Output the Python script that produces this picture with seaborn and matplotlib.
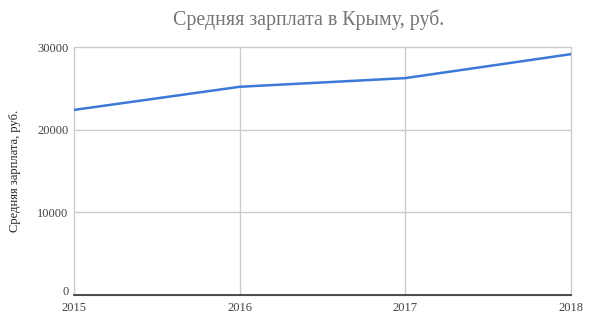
import matplotlib
matplotlib.use("Agg")
import matplotlib.pyplot as plt
import matplotlib.transforms as mtransforms
import seaborn as sns
import pandas as pd

years = [2015, 2016, 2017, 2018]
salary = [22400, 25200, 26250, 29150]
yticks = [0, 10000, 20000, 30000]

sns.set_theme(style="white")
plt.rcParams['font.family'] = ['Liberation Serif', 'DejaVu Serif']

df = pd.DataFrame({"year": years, "salary": salary})

fig = plt.figure(figsize=(5.92, 3.25), dpi=100)
ax = fig.add_axes([0.125, 0.0923, 0.8395, 0.7627])
sns.lineplot(data=df, x="year", y="salary", ax=ax, color="#3c78d8", linewidth=1.8)

ax.set_xlim(2015, 2018)
ax.set_ylim(0, 30000)
ax.set_xticks(years)
ax.set_yticks(yticks)
ax.set_xticklabels([str(y) for y in years])
ax.set_yticklabels([str(v) for v in yticks])
ax.grid(True, color="#cccccc", linewidth=1)
for gl in ax.get_xgridlines() + ax.get_ygridlines():
    gl.set_clip_on(False)
for s in ["top", "right", "left"]:
    ax.spines[s].set_visible(False)
ax.spines["bottom"].set_color("#333333")
ax.spines["bottom"].set_linewidth(1.2)
ax.tick_params(axis="both", length=0, labelsize=9, colors="#444444")
ax.tick_params(axis="x", pad=5)
ax.tick_params(axis="y", pad=4)
zero_lbl = ax.get_yticklabels()[0]
zero_lbl.set_transform(zero_lbl.get_transform() + mtransforms.ScaledTranslation(0, 3 / 72, fig.dpi_scale_trans))
ax.set_xlabel("")
ax.set_ylabel("Средняя зарплата, руб.", fontsize=9, color="#222222", labelpad=12)
fig.text(0.522, 0.97, "Средняя зарплата в Крыму, руб.", fontsize=14.3, color="#757575", ha="center", va="top")
fig.savefig("out.png", dpi=100)
